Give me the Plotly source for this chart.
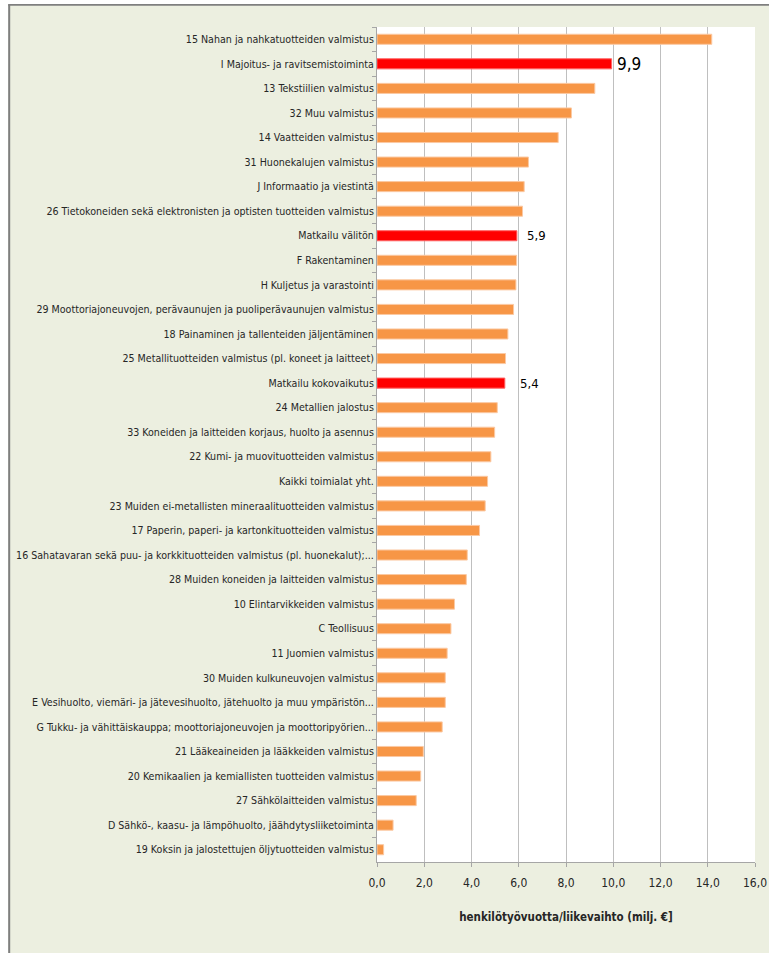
import plotly.graph_objects as go

categories = [
    "15 Nahan ja nahkatuotteiden valmistus",
    "I Majoitus- ja ravitsemistoiminta",
    "13 Tekstiilien valmistus",
    "32 Muu valmistus",
    "14 Vaatteiden valmistus",
    "31 Huonekalujen valmistus",
    "J Informaatio ja viestintä",
    "26 Tietokoneiden sekä elektronisten ja optisten tuotteiden valmistus",
    "Matkailu välitön",
    "F Rakentaminen",
    "H Kuljetus ja varastointi",
    "29 Moottoriajoneuvojen, perävaunujen ja puoliperävaunujen valmistus",
    "18 Painaminen ja tallenteiden jäljentäminen",
    "25 Metallituotteiden valmistus (pl. koneet ja laitteet)",
    "Matkailu kokovaikutus",
    "24 Metallien jalostus",
    "33 Koneiden ja laitteiden korjaus, huolto ja asennus",
    "22 Kumi- ja muovituotteiden valmistus",
    "Kaikki toimialat yht.",
    "23 Muiden ei-metallisten mineraalituotteiden valmistus",
    "17 Paperin, paperi- ja kartonkituotteiden valmistus",
    "16 Sahatavaran sekä puu- ja korkkituotteiden valmistus (pl. huonekalut);...",
    "28 Muiden koneiden ja laitteiden valmistus",
    "10 Elintarvikkeiden valmistus",
    "C Teollisuus",
    "11 Juomien valmistus",
    "30 Muiden kulkuneuvojen valmistus",
    "E Vesihuolto, viemäri- ja jätevesihuolto, jätehuolto ja muu ympäristön...",
    "G Tukku- ja vähittäiskauppa; moottoriajoneuvojen ja moottoripyörien...",
    "21 Lääkeaineiden ja lääkkeiden valmistus",
    "20 Kemikaalien ja kemiallisten tuotteiden valmistus",
    "27 Sähkölaitteiden valmistus",
    "D Sähkö-, kaasu- ja lämpöhuolto, jäähdytysliiketoiminta",
    "19 Koksin ja jalostettujen öljytuotteiden valmistus",
]

values = [
    14.17, 9.93, 9.22, 8.23, 7.67, 6.41, 6.23, 6.16, 5.92, 5.91, 5.88,
    5.78, 5.54, 5.44, 5.41, 5.09, 4.98, 4.82, 4.68, 4.58, 4.34, 3.82,
    3.78, 3.28, 3.13, 2.97, 2.89, 2.89, 2.76, 1.96, 1.85, 1.66, 0.68, 0.28,
]

highlighted = ["I Majoitus- ja ravitsemistoiminta", "Matkailu välitön", "Matkailu kokovaikutus"]
label_sizes = [17, 13, 13]
label_shifts = [3, 8, 13]

ORANGE = "#F79646"
RED = "#FF0000"
colors = [RED if c in highlighted else ORANGE for c in categories]
line_colors = ["#FF6060" if c in highlighted else "#FBC9A3" for c in categories]

FONT = "DejaVu Sans Condensed, Liberation Sans Narrow, Liberation Sans, sans-serif"

# figure is placed at (8, 4) inside the 769x953 window
W, H = 761, 949
ML, MR, MT, MB = 369, 14, 23, 91
pw, ph = W - ML - MR, H - MT - MB


def px_x(px):
    return (px - ML) / pw


def px_y(py):
    return 1 - (py - MT) / ph


fig = go.Figure()
fig.add_trace(go.Bar(
    y=categories,
    x=values,
    orientation="h",
    marker=dict(color=colors, line=dict(color=line_colors, width=1)),
    hoverinfo="x+y",
))

for name, size, shift in zip(highlighted, label_sizes, label_shifts):
    v = values[categories.index(name)]
    fig.add_annotation(
        x=v, y=name, xref="x", yref="y",
        text=f"{v:.1f}".replace(".", ","),
        showarrow=False, xanchor="left", yanchor="middle",
        xshift=shift,
        font=dict(family=FONT, size=size, color="#000000"),
    )

fig.update_layout(
    width=W, height=H,
    margin=dict(l=ML, r=MR, t=MT, b=MB, autoexpand=False),
    paper_bgcolor="#ECEFE0",
    plot_bgcolor="#FFFFFF",
    bargap=0.59,
    showlegend=False,
    separators=", ",
    font=dict(family=FONT, size=11, color="#262626"),
    xaxis=dict(
        range=[0, 16],
        dtick=2,
        tickformat=".1f",
        showgrid=True,
        gridcolor="#BFBFBF",
        gridwidth=1.3,
        showline=True,
        linecolor="#A6A6A6",
        linewidth=1,
        ticks="outside",
        ticklen=4,
        tickcolor="#A6A6A6",
        zeroline=False,
        automargin=False,
        ticklabelstandoff=6,
        tickfont=dict(family=FONT, size=12, color="#262626"),
        title=dict(text="<b>henkilötyövuotta/liikevaihto (milj. €]</b>",
                   font=dict(family=FONT, size=11.5, color="#262626"),
                   standoff=23),
        fixedrange=True,
    ),
    yaxis=dict(
        autorange="reversed",
        showline=True,
        linecolor="#A6A6A6",
        linewidth=1,
        ticks="outside",
        tickson="boundaries",
        ticklen=4,
        tickcolor="#A6A6A6",
        showgrid=False,
        automargin=False,
        tickfont=dict(family=FONT, size=10.6, color="#262626"),
        fixedrange=True,
    ),
    shapes=[
        dict(type="line", xref="paper", yref="paper",
             x0=px_x(1.2), x1=px_x(1.2), y0=px_y(H), y1=px_y(0.5),
             line=dict(color="#7F7F7F", width=2), layer="below"),
        dict(type="line", xref="paper", yref="paper",
             x0=px_x(0.2), x1=px_x(W), y0=px_y(0.8), y1=px_y(0.8),
             line=dict(color="#7F7F7F", width=2), layer="below"),
    ],
)

fig.write_html("out.html", post_script="document.body.style.margin='4px 0 0 8px';")
